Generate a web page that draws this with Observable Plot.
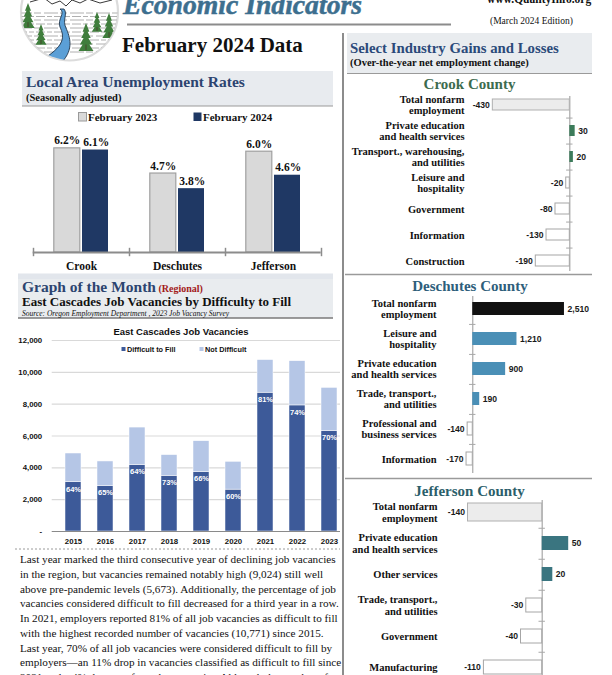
<!DOCTYPE html>
<html><head><meta charset="utf-8">
<script src="https://cdn.jsdelivr.net/npm/d3@7"></script>
<script src="https://cdn.jsdelivr.net/npm/@observablehq/plot@0.6"></script>
<style>
body{margin:0;width:612px;height:675px;overflow:hidden;position:relative;background:#fff;}
.abs{position:absolute;}
</style></head><body>
<svg id="bg" class="abs" style="left:0;top:0" width="612" height="675"></svg>
<div id="c1" class="abs" style="left:0;top:122px"></div>
<div id="c2" class="abs" style="left:0;top:330px"></div>
<div id="c3" class="abs" style="left:347px;top:88px"></div>
<div id="c4" class="abs" style="left:347px;top:288px"></div>
<div id="c5" class="abs" style="left:347px;top:492px"></div>
<script>
// ---------- DATA ----------
const unempCounties = ["Crook", "Deschutes", "Jefferson"];
const unempSeries = ["February 2023", "February 2024"];
const unempFeb2023 = [6.2, 4.7, 6.0];
const unempFeb2024 = [6.1, 3.8, 4.6];

const vacYears = ["2015","2016","2017","2018","2019","2020","2021","2022","2023"];
const vacSeries = ["Difficult to Fill", "Not Difficult"];
const vacDifficult    = [3100, 2860, 4180, 3500, 3740, 2630, 8720, 7920, 6320];
const vacNotDifficult = [1800, 1540, 2350, 1300, 1933, 1750, 2051, 2780, 2704];
const vacPctLabels = ["64%","65%","64%","73%","66%","60%","81%","74%","70%"];
const vacTicks = [0, 2000, 4000, 6000, 8000, 10000, 12000];

const crookIndustries = ["Total nonfarm\nemployment","Private education\nand health services","Transport., warehousing,\nand utilities","Leisure and\nhospitality","Government","Information","Construction"];
const crookChange = [-430, 30, 20, -20, -80, -130, -190];

const deschutesIndustries = ["Total nonfarm\nemployment","Leisure and\nhospitality","Private education\nand health services","Trade, transport.,\nand utilities","Professional and\nbusiness services","Information"];
const deschutesChange = [2510, 1210, 900, 190, -140, -170];

const jeffersonIndustries = ["Total nonfarm\nemployment","Private education\nand health services","Other services","Trade, transport.,\nand utilities","Government","Manufacturing"];
const jeffersonChange = [-140, 50, 20, -30, -40, -110];

const paragraph = [
 "Last year marked the third consecutive year of declining job vacancies",
 "in the region, but vacancies remained notably high (9,024) still well",
 "above pre-pandemic levels (5,673). Additionally, the percentage of job",
 "vacancies considered difficult to fill decreased for a third year in a row.",
 "In 2021, employers reported 81% of all job vacancies as difficult to fill",
 "with the highest recorded number of vacancies (10,771) since 2015.",
 "Last year, 70% of all job vacancies were considered difficult to fill by",
 "employers\u2014an 11% drop in vacancies classified as difficult to fill since",
 "2021 and a 4% decrease from the year prior. Although the number of"
];

// ---------- STYLE ----------
const SERIF = "Liberation Serif";
const SANS = "Liberation Sans";
const navy = "#1f3864", grayBar = "#d9d9d9";
const vacDark = "#3d5a99", vacLight = "#b5c6e6";

// ---------- BACKGROUND / TEXT LAYER ----------
const NS = "http://www.w3.org/2000/svg";
const bg = document.getElementById("bg");
function el(tag, attrs, parent = bg, text) {
  const e = document.createElementNS(NS, tag);
  for (const k in attrs) e.setAttribute(k, attrs[k]);
  if (text != null) e.textContent = text;
  parent.appendChild(e);
  return e;
}
function txt(s, x, y, size, opts = {}) {
  return el("text", Object.assign({x, y, "font-size": size, "font-weight": "bold", fill: "#111", "font-family": SERIF}, opts), bg, s);
}

// logo
const defs = el("defs", {});
const cp = el("clipPath", {id: "lc"}, defs);
el("circle", {cx: 69.5, cy: 12, r: 48}, cp);
el("circle", {cx: 69.5, cy: 12, r: 48.5, fill: "#fff", stroke: "#dcdcdc", "stroke-width": 2.2});
const lg = el("g", {"clip-path": "url(#lc)"});
[13, 16.5, 20, 24, 28, 32, 36, 40, 44, 48, 52].forEach((y, i) => {
  el("line", {x1: 18, x2: 120, y1: y, y2: y, stroke: "#9c9c9c", "stroke-width": 0.8, "stroke-dasharray": i % 2 ? "9 2 5 2" : "14 2 7 3"}, lg);
});
el("path", {d: "M30 2 L44 -2 L52 4 L60 1 L66 6 L72 0 L80 3 L88 -1 L100 3 L112 0", fill: "none", stroke: "#222", "stroke-width": 0.9}, lg);
el("path", {d: "M60 9 C66 13 57 19 60 27 C64 36 67 46 38 62 L62 62 C74 49 70 37 66 28 C62 20 68 14 64 9 Z", fill: "#5b9fd6", stroke: "#24384c", "stroke-width": 0.9}, lg);
function tree(cx, top, bot) {
  const h = bot - top, w = h * 0.28;
  let d = "";
  for (let t = 0; t < 4; t++) {
    const y0 = top + t * h * 0.2, y1 = top + (t + 1) * h * 0.24 + h * 0.08;
    const ww = w * (0.45 + t * 0.18);
    d += `M${cx} ${y0} L${cx - ww} ${y1} L${cx + ww} ${y1} Z `;
  }
  el("path", {d, fill: "#3f7d3c"}, lg);
  el("line", {x1: cx, x2: cx, y1: top + h * 0.8, y2: bot, stroke: "#4a3a2a", "stroke-width": 0.8}, lg);
}
tree(28, 3, 27); tree(41, 24, 44); tree(86, 23, 50); tree(97, 12, 31); tree(109, 13, 37);

txt("Economic Indicators", 123, 14, 27, {"font-style": "italic", fill: "#3d6f8f", textLength: 239, lengthAdjust: "spacingAndGlyphs", stroke: "#3d6f8f", "stroke-width": 0.5});
el("line", {x1: 127, x2: 451, y1: 24.5, y2: 24.5, stroke: "#8c8c8c", "stroke-width": 2});
txt("February 2024 Data", 122, 52, 21);
txt("www.QualityInfo.org", 487, 3, 11.5);
txt("(March 2024 Edition)", 490, 24, 9.5, {"font-weight": "normal"});

// right column frame
el("line", {x1: 343, x2: 343, y1: 33, y2: 675, stroke: "#8c8c8c", "stroke-width": 2});
el("rect", {x: 347, y: 33, width: 245, height: 40, fill: "#e9ecef"});
el("line", {x1: 347, x2: 592, y1: 73.5, y2: 73.5, stroke: "#9a9a9a", "stroke-width": 1.2});
txt("Select Industry Gains and Losses", 350, 53, 14.8, {fill: "#2b4a7a"});
txt("(Over-the-year net employment change)", 350, 66, 10.5);
txt("Crook County", 469.5, 89, 15, {"text-anchor": "middle", fill: "#3c6b4e"});
el("line", {x1: 345, x2: 592, y1: 274.5, y2: 274.5, stroke: "#9a9a9a", "stroke-width": 1.5});
txt("Deschutes County", 470, 291, 15, {"text-anchor": "middle", fill: "#2e5e7b"});
el("line", {x1: 345, x2: 592, y1: 478.5, y2: 478.5, stroke: "#9a9a9a", "stroke-width": 1.5});
txt("Jefferson County", 469.5, 496, 15, {"text-anchor": "middle", fill: "#2b5e6a"});

// left panel 1
el("rect", {x: 22, y: 71, width: 311, height: 35, fill: "#e8ebef"});
el("line", {x1: 22, x2: 333, y1: 106, y2: 106, stroke: "#9a9a9a", "stroke-width": 1.2});
txt("Local Area Unemployment Rates", 26, 87, 15.5, {fill: "#2c4470"});
txt("(Seasonally adjusted)", 26, 101, 10.5);
el("rect", {x: 78.5, y: 112.5, width: 8, height: 8.5, fill: grayBar, stroke: "#9a9a9a"});
txt(unempSeries[0], 88, 120.5, 11);
el("rect", {x: 193.5, y: 112.5, width: 8, height: 8.5, fill: navy});
txt(unempSeries[1], 203, 120.5, 11);
el("rect", {x: 18, y: 273.5, width: 315, height: 5.5, fill: "#e2e6ec"});

// left panel 2
el("rect", {x: 18, y: 279, width: 315, height: 39, fill: "#e9ecef"});
el("line", {x1: 18, x2: 333, y1: 318, y2: 318, stroke: "#7a7a7a", "stroke-width": 1.5});
const gm = txt("Graph of the Month", 22, 292, 15.5, {fill: "#2c4470"});
el("tspan", {fill: "#a31a1a", "font-size": 10}, gm, " (Regional)");
txt("East Cascades Job Vacancies by Difficulty to Fill", 22, 305.5, 13);
txt("Source: Oregon Employment Department , 2023 Job Vacancy Survey", 22, 315.5, 7.5, {"font-style": "italic", "font-weight": "normal"});
txt("East Cascades Job Vacancies", 181, 335, 9.5, {"text-anchor": "middle", "font-family": SANS});
el("rect", {x: 121.5, y: 347, width: 4, height: 4, fill: vacDark});
txt(vacSeries[0], 127, 351.5, 7.3, {"font-family": SANS});
el("rect", {x: 199.5, y: 347, width: 4, height: 4, fill: vacLight});
txt(vacSeries[1], 205, 351.5, 7.3, {"font-family": SANS});
el("line", {x1: 15, x2: 340, y1: 549, y2: 549, stroke: "#9a9a9a", "stroke-width": 1, "stroke-dasharray": "2 2"});
paragraph.forEach((s, i) => txt(s, 20, 563.3 + i * 14.7, 11.2, {"font-weight": "normal"}));

// ---------- CHART 1: unemployment ----------
const unempData = unempCounties.flatMap((c, i) => [
  {county: c, series: unempSeries[0], value: unempFeb2023[i]},
  {county: c, series: unempSeries[1], value: unempFeb2024[i]}
]);
const u0 = unempData.filter(d => d.series === unempSeries[0]);
const u1 = unempData.filter(d => d.series === unempSeries[1]);
const lab = {fontFamily: SERIF, fontWeight: "bold", fontSize: 11.5, fill: "#111"};
const chart1 = Plot.plot({
  width: 333, height: 155, marginLeft: 32.7, marginRight: 12.3, marginTop: 4, marginBottom: 25,
  style: {background: "transparent", overflow: "visible", fontFamily: SERIF},
  x: {domain: unempCounties, padding: 0, axis: null},
  y: {domain: [0, 7.5], axis: null},
  marks: [
    Plot.barY(u0, {x: "county", y: "value", fill: grayBar, stroke: "#a0a0a0", strokeWidth: 1.2, insetLeft: 20.8, insetRight: 49.2}),
    Plot.barY(u1, {x: "county", y: "value", fill: navy, insetLeft: 49, insetRight: 21}),
    Plot.text(u0, {x: "county", y: "value", text: d => d.value.toFixed(1) + "%", dx: -14.3, dy: -4, lineAnchor: "bottom", ...lab}),
    Plot.text(u1, {x: "county", y: "value", text: d => d.value.toFixed(1) + "%", dx: 14.7, dy: -4, lineAnchor: "bottom", ...lab}),
    Plot.ruleY([0], {stroke: "#8c8c8c", strokeWidth: 2}),
    Plot.ruleX(unempCounties, {x: d => d, y1: -0.25, y2: 0.25, dx: -48, stroke: "#8c8c8c", strokeWidth: 1.5}),
    Plot.ruleX(unempCounties.slice(-1), {x: d => d, y1: -0.25, y2: 0.25, dx: 48, stroke: "#8c8c8c", strokeWidth: 1.5}),
    Plot.axisX({tickSize: 0, tickPadding: 9, label: null, ...lab, fontSize: 11.5})
  ]
});
document.getElementById("c1").appendChild(chart1);

// ---------- CHART 2: vacancies ----------
const vacData = vacYears.flatMap((y, i) => [
  {year: y, type: vacSeries[0], value: vacDifficult[i]},
  {year: y, type: vacSeries[1], value: vacNotDifficult[i]}
]);
const vacPct = vacYears.map((y, i) => ({year: y, value: vacDifficult[i], label: vacPctLabels[i]}));
const sansB = {fontFamily: SANS, fontWeight: "bold"};
const chart2 = Plot.plot({
  width: 345, height: 220, marginLeft: 51.7, marginRight: 5, marginTop: 10, marginBottom: 19,
  style: {background: "transparent", overflow: "visible", fontFamily: SANS},
  x: {domain: vacYears, paddingInner: 0.5, paddingOuter: 0.15, align: 0.82, axis: null},
  y: {domain: [0, 12000], axis: null},
  color: {domain: vacSeries, range: [vacDark, vacLight]},
  marks: [
    Plot.gridY(vacTicks.filter(d => d > 0), {stroke: "#d9d9d9", strokeOpacity: 1, strokeWidth: 1.2}),
    Plot.barY(vacData, {x: "year", y: "value", fill: "type", stroke: "#fff", strokeWidth: 0.5}),
    Plot.ruleY([0], {stroke: "#8a8a8a", strokeWidth: 1.2}),
    Plot.text(vacPct, {x: "year", y: "value", text: "label", dy: 7, fill: "#fff", fontSize: 7.5, ...sansB}),
    Plot.axisY({ticks: vacTicks, tickFormat: d => d === 0 ? "-" : d3.format(",")(d), tickSize: 0, tickPadding: 10, label: null, fontSize: 7.8, ...sansB, fill: "#111"}),
    Plot.axisX({tickSize: 0, tickPadding: 7, label: null, fontSize: 7.8, ...sansB, fill: "#111"})
  ]
});
document.getElementById("c2").appendChild(chart2);

// ---------- CHARTS 3-5: industry gains & losses ----------
function industryChart(target, o) {
  const data = o.names.map((n, i) => ({name: n, v: o.values[i], i}));
  const W = 245;
  const k = (W - o.marginLeft - o.marginRight) / (o.domain[1] - o.domain[0]);
  const step = (o.height - o.marginTop) / o.names.length;
  const valStyle = {fontFamily: SANS, fontWeight: "bold", fontSize: 8.6, fill: "#1a1a1a"};
  const chart = Plot.plot({
    width: W, height: o.height, marginLeft: o.marginLeft, marginRight: o.marginRight, marginTop: o.marginTop, marginBottom: 0,
    style: {background: "transparent", overflow: "visible", fontFamily: SERIF},
    x: {domain: o.domain, axis: null},
    y: {domain: o.names, paddingInner: o.padding, paddingOuter: o.padding / 2, axis: null},
    marks: [
      Plot.ruleX([0], {stroke: "#a8a8a8", strokeWidth: 1.2, insetTop: 5, insetBottom: 3}),
      Plot.ruleY(o.names.slice(0, -1), {y: d => d, x1: -3.2 / k, x2: 3.2 / k, dy: step / 2, stroke: "#a8a8a8", strokeWidth: 1}),
      Plot.barX(data.filter(d => d.i === 0), {x: "v", y: "name", fill: o.totalFill, stroke: o.totalStroke, strokeWidth: 1, insetTop: o.totalInset, insetBottom: o.totalInset}),
      Plot.barX(data.filter(d => d.i > 0 && d.v > 0), {x: "v", y: "name", fill: o.posFill}),
      Plot.barX(data.filter(d => d.i > 0 && d.v < 0), {x: "v", y: "name", fill: "#fff", stroke: "#a6a6a6", strokeWidth: 1}),
      Plot.text(data.filter(d => d.v < 0), {x: "v", y: "name", text: d => d.v.toLocaleString("en-US"), textAnchor: "end", dx: -3, ...valStyle}),
      Plot.text(data.filter(d => d.v > 0), {x: "v", y: "name", text: d => d.v.toLocaleString("en-US"), textAnchor: "start", dx: 3, ...valStyle}),
      Plot.text(o.names, {y: d => d, frameAnchor: "left", dx: o.labelDx, textAnchor: "end", lineHeight: 1.08,
        fontFamily: SERIF, fontWeight: "bold", fontSize: 10.5, fill: "#111", ariaLabel: "industry-label"})
    ]
  });
  const host = document.getElementById(target);
  host.appendChild(chart);
  // center the lines of each multi-line label within its right-aligned block
  chart.querySelectorAll('g[aria-label="industry-label"] text').forEach(t => {
    const spans = [...t.querySelectorAll("tspan")];
    if (spans.length < 2) return;
    const ws = spans.map(s => s.getComputedTextLength());
    const mx = Math.max(...ws);
    spans.forEach((s, j) => s.setAttribute("x", -(mx - ws[j]) / 2));
  });
}

industryChart("c3", {names: crookIndustries, values: crookChange, domain: [-500, 100],
  marginLeft: 132.8, marginRight: 4.8, marginTop: 3, height: 186, padding: 0.56, labelDx: -15.8,
  totalFill: "#ececec", totalStroke: "#b0b0b0", totalInset: 0, posFill: "#3c7b5a"});
industryChart("c4", {names: deschutesIndustries, values: deschutesChange, domain: [-300, 2700],
  marginLeft: 114.3, marginRight: 21.1, marginTop: 3, height: 188, padding: 0.57, labelDx: -25.3,
  totalFill: "#111111", totalStroke: "none", totalInset: 0, posFill: "#4a8fb6"});
industryChart("c5", {names: jeffersonIndustries, values: jeffersonChange, domain: [-160, 80],
  marginLeft: 109.9, marginRight: 7.9, marginTop: 3, height: 192, padding: 0.56, labelDx: -19.9,
  totalFill: "#ececec", totalStroke: "#b0b0b0", totalInset: -2, posFill: "#3a7580"});
</script>
</body></html>
